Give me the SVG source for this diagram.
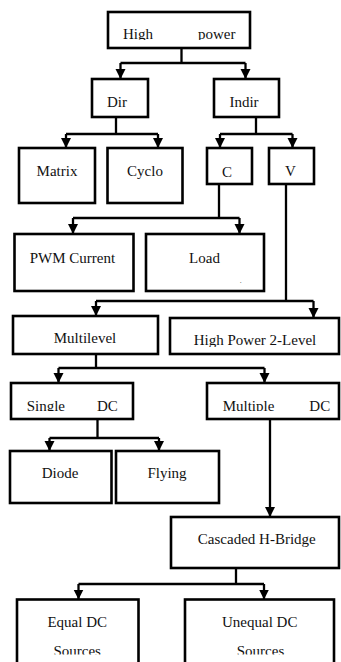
<svg xmlns="http://www.w3.org/2000/svg" width="341" height="662" viewBox="0 0 341 662">
<style>
.box{fill:#fff;stroke:#000;stroke-width:2.6}
.ln{fill:none;stroke:#000;stroke-width:2.3}
.ar{fill:none;stroke:#000;stroke-width:2.3;marker-end:url(#ah)}
text{font-family:"Liberation Serif","Times New Roman",serif;font-size:15px;fill:#111}
.c{text-anchor:middle}
</style>
<defs>
<marker id="ah" viewBox="0 0 10 10" refX="10" refY="5" markerWidth="10" markerHeight="11" markerUnits="userSpaceOnUse" orient="auto">
<path d="M0,0 L10,5 L0,10 z" fill="#000"/>
</marker>
<clipPath id="cHP"><rect x="0" y="0" width="341" height="40"/></clipPath>
<clipPath id="cH2"><rect x="0" y="300" width="341" height="47"/></clipPath>
<clipPath id="cSD"><rect x="0" y="380" width="341" height="31"/></clipPath>
<clipPath id="cSo"><rect x="0" y="630" width="341" height="24.5"/></clipPath>
</defs>
<rect width="341" height="662" fill="#fff"/>
<g id="connectors">
<path class="ln" d="M181.5,48 V63 M120.5,63 H245.5"/>
<path class="ar" d="M120.5,63 V79"/>
<path class="ar" d="M245.5,63 V79"/>
<path class="ln" d="M116,117 V134 M66,134 H158"/>
<path class="ar" d="M66,134 V148"/>
<path class="ar" d="M158,134 V148"/>
<path class="ln" d="M256,117 V134 M220,134 H292.5"/>
<path class="ar" d="M220,134 V148"/>
<path class="ar" d="M292.5,134 V148"/>
<path class="ln" d="M219,184 V218 M73,218 H239.5"/>
<path class="ar" d="M73,218 V234"/>
<path class="ar" d="M239.5,218 V234"/>
<path class="ln" d="M286,184 V301 M96,301 H313.5"/>
<path class="ar" d="M96,301 V316"/>
<path class="ar" d="M313.5,301 V318"/>
<path class="ln" d="M96,354 V368 M58.5,368 H264.5"/>
<path class="ar" d="M58.5,368 V383"/>
<path class="ar" d="M264.5,368 V383"/>
<path class="ln" d="M97.5,419 V438 M49.5,438 H159"/>
<path class="ar" d="M49.5,438 V451"/>
<path class="ar" d="M159,438 V451"/>
<path class="ar" d="M270,419 V517"/>
<path class="ln" d="M236,568 V584 M78.5,584 H264"/>
<path class="ar" d="M78.5,584 V599.5"/>
<path class="ar" d="M264,584 V599.5"/>
</g>
<g id="n-high-power"><rect class="box" x="108" y="12" width="142" height="36"/><text x="123" y="39" clip-path="url(#cHP)">High</text><text x="198" y="39" clip-path="url(#cHP)">power</text></g>
<g id="n-dir"><rect class="box" x="92" y="79" width="56" height="38"/><text class="c" x="117" y="107">Dir</text></g>
<g id="n-indir"><rect class="box" x="214" y="79" width="65" height="38"/><text class="c" x="244" y="107">Indir</text></g>
<g id="n-matrix"><rect class="box" x="19" y="148" width="76" height="55"/><text class="c" x="57" y="176">Matrix</text></g>
<g id="n-cyclo"><rect class="box" x="107.5" y="148" width="75" height="55"/><text class="c" x="145" y="176">Cyclo</text></g>
<g id="n-c"><rect class="box" x="207" y="148" width="45" height="36"/><text class="c" x="227" y="176.5">C</text></g>
<g id="n-v"><rect class="box" x="269" y="148" width="45" height="36"/><text class="c" x="290.5" y="176">V</text></g>
<g id="n-pwm"><rect class="box" x="14.5" y="234" width="119" height="57"/><text class="c" x="72.5" y="263.3">PWM Current</text></g>
<g id="n-load"><rect class="box" x="146" y="234" width="118" height="57"/><text class="c" x="204.5" y="263.3">Load</text><text x="240" y="283" style="font-size:6px">.</text></g>
<g id="n-multilevel"><rect class="box" x="13" y="316" width="145" height="38"/><text class="c" x="85" y="343.3">Multilevel</text></g>
<g id="n-hp2l"><rect class="box" x="170" y="318" width="169" height="36"/><text class="c" x="255" y="345" clip-path="url(#cH2)">High Power 2-Level</text></g>
<g id="n-single"><rect class="box" x="11" y="383" width="122" height="36"/><text x="26.7" y="410.5" clip-path="url(#cSD)">Single</text><text x="97" y="410.5" clip-path="url(#cSD)">DC</text></g>
<g id="n-multiple"><rect class="box" x="207" y="383" width="132" height="36"/><text x="222.7" y="410.5" clip-path="url(#cSD)">Multiple</text><text x="309.3" y="410.5" clip-path="url(#cSD)">DC</text></g>
<g id="n-diode"><rect class="box" x="10" y="451" width="101.5" height="52"/><text class="c" x="60" y="478.3">Diode</text></g>
<g id="n-flying"><rect class="box" x="116" y="451" width="103" height="52"/><text class="c" x="167" y="478.3">Flying</text></g>
<g id="n-cascaded"><rect class="box" x="171" y="517" width="168" height="51"/><text class="c" x="256.8" y="544.3">Cascaded H-Bridge</text></g>
<g id="n-equal"><rect class="box" x="17" y="599.5" width="121.5" height="75"/><text class="c" x="77.2" y="626.7">Equal DC</text><text class="c" x="77.2" y="655.7" clip-path="url(#cSo)">Sources</text></g>
<g id="n-unequal"><rect class="box" x="185" y="599.5" width="149" height="75"/><text class="c" x="259.7" y="626.7">Unequal DC</text><text class="c" x="260.5" y="655.7" clip-path="url(#cSo)">Sources</text></g>
</svg>
